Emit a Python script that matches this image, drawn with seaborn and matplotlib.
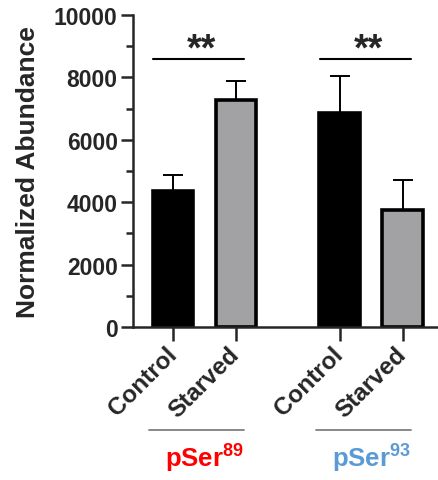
import numpy as np
import pandas as pd
import matplotlib
matplotlib.use("Agg")
import matplotlib.pyplot as plt
import matplotlib.transforms as mtransforms
import seaborn as sns

# ---- data ----
sites = ["pSer89", "pSer89", "pSer93", "pSer93"]
conditions = ["Control", "Starved", "Control", "Starved"]
abundance = [4360, 7260, 6860, 3760]
sem = [510, 630, 1190, 960]
site_labels = [r"pSer$^{\mathbf{89}}$", r"pSer$^{\mathbf{93}}$"]
site_colors = ["#FF0000", "#5B9BD5"]
significance = ["**", "**"]

sns.set_style("ticks")
plt.rcParams["font.family"] = ["Liberation Sans", "DejaVu Sans"]
plt.rcParams["font.weight"] = "bold"
plt.rcParams["mathtext.fontset"] = "custom"
plt.rcParams["mathtext.rm"] = "Liberation Sans:bold"
plt.rcParams["mathtext.bf"] = "Liberation Sans:bold"
plt.rcParams["mathtext.it"] = "Liberation Sans:bold"

# layout: position within group + group offset
group_gap = 2.65
group_idx = [0, 0, 1, 1]
cond_idx = [0, 1, 0, 1]
pos = [g * group_gap + c for g, c in zip(group_idx, cond_idx)]

df = pd.DataFrame({"pos": pos, "site": sites, "condition": conditions,
                   "abundance": abundance, "sem": sem})

fig = plt.figure(figsize=(4.38, 4.81), dpi=100)
ax = fig.add_axes([133 / 438, 1 - 328 / 481, 1 - 133 / 438, 312 / 481])

palette = {"Control": "black", "Starved": "#A2A1A6"}
sns.barplot(data=df, x="pos", y="abundance", hue="condition", palette=palette,
            native_scale=True, dodge=False, width=0.65, legend=False,
            edgecolor="black", linewidth=2.6, errorbar=None, ax=ax, zorder=2)

ax.errorbar(df["pos"], df["abundance"], yerr=[np.zeros(len(df)), df["sem"]],
            fmt="none", ecolor="black", elinewidth=1.4, capsize=7.5, capthick=1.4,
            zorder=1)

ax.set_xlim(-0.635, 3.65 + 0.556)
ax.set_ylim(0, 10000)
ax.set_yticks(np.arange(0, 10001, 2000))
ax.set_yticks(np.arange(1000, 10000, 2000), minor=True)
ax.set_xticks(pos)
ax.set_xticklabels(conditions, rotation=45, ha="right", va="center",
                   rotation_mode="anchor", fontsize=17.5, fontweight="bold")
for lab in ax.get_yticklabels():
    lab.set_fontsize(16.5)
    lab.set_fontweight("bold")
ax.set_xlabel("")
ax.set_ylabel("Normalized Abundance", fontsize=19, fontweight="bold", labelpad=10)

for s in ["left", "bottom"]:
    ax.spines[s].set_linewidth(1.8)
sns.despine(ax=ax)
ax.tick_params(axis="both", which="major", width=1.8, length=9, pad=2)
ax.tick_params(axis="y", which="minor", width=1.8, length=5)
ax.tick_params(axis="x", which="major", length=10, pad=7)

# significance brackets
for g in range(2):
    p0 = g * group_gap
    ax.plot([p0 - 0.32, p0 + 1.13], [8600, 8600], color="black", lw=1.5, zorder=3)
    ax.text(p0 + 0.45, 8880, significance[g], ha="center", va="center",
            fontsize=27, fontweight="bold")

# group labels below
trans = mtransforms.blended_transform_factory(ax.transData, ax.transAxes)
for g in range(2):
    p0 = g * group_gap
    ax.plot([p0 - 0.38, p0 + 1.13], [-0.33, -0.33], color="#7F7F7F", lw=1.3,
            transform=trans, clip_on=False)
    ax.text(p0 + 0.5, -0.42, site_labels[g], color=site_colors[g], ha="center",
            va="center", fontsize=18.5, fontweight="bold", transform=trans)

fig.savefig("out.png", dpi=100)
